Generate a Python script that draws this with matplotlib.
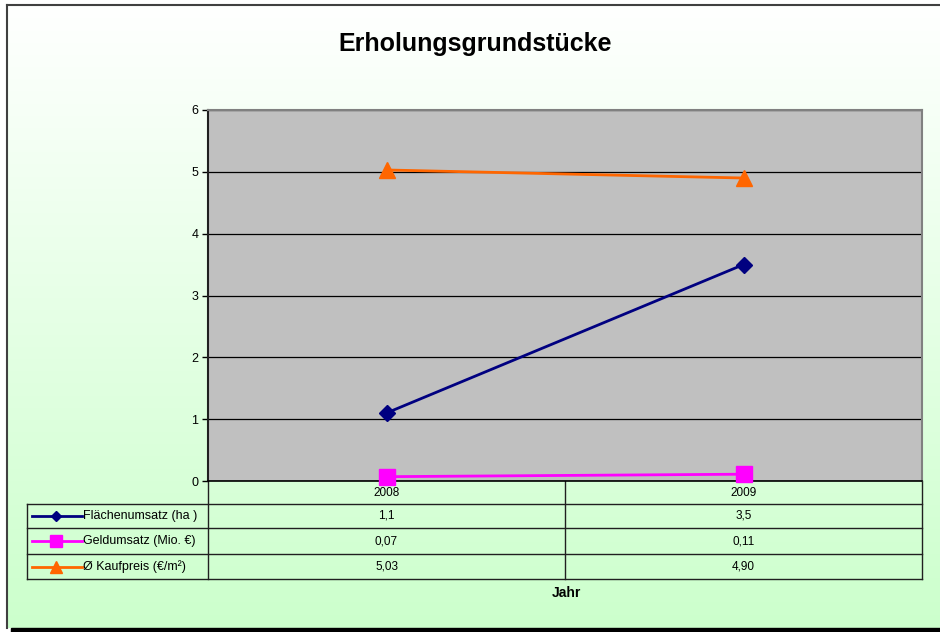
import matplotlib.pyplot as plt
import numpy as np
from matplotlib.lines import Line2D
from matplotlib.patches import Rectangle
from matplotlib.colors import LinearSegmentedColormap
import matplotlib.transforms as mtransforms

# Daten
years = ['2008', '2009']
flaeche = [1.1, 3.5]
geld = [0.07, 0.11]
kaufpreis = [5.03, 4.90]

series_names = ['Flächenumsatz (ha )', 'Geldumsatz (Mio. €)', 'Ø Kaufpreis (€/m²)']
series_values = [flaeche, geld, kaufpreis]
series_decimals = [1, 2, 2]
series_colors = ['#000080', '#ff00ff', '#ff6600']
series_markers = ['D', 's', '^']
series_msize = [8, 12, 12]
legend_msize = [5, 9, 8]

plt.rcParams['font.family'] = ['Liberation Sans', 'DejaVu Sans']

W, H = 940, 632
fig = plt.figure(figsize=(W / 100, H / 100), dpi=100, facecolor='white')

# Hintergrund-Achse in Pixelkoordinaten
bg = fig.add_axes([0, 0, 1, 1], zorder=0)
bg.set_xlim(0, W)
bg.set_ylim(H, 0)
bg.axis('off')

cmap = LinearSegmentedColormap.from_list('grn', ['#ffffff', '#ccffcc'])
grad = np.linspace(0, 1, 256).reshape(-1, 1)
bg.imshow(grad, cmap=cmap, aspect='auto', extent=(7, W, 628, 5), zorder=0)

# Rahmen
bg.plot([7, W], [5, 5], color='#404040', lw=1.5, zorder=1)
bg.plot([7, 7], [5, 628], color='#404040', lw=1.5, zorder=1)
bg.add_patch(Rectangle((11, 628), W - 11, 5, color='black', zorder=1))

bg.text(475, 44, 'Erholungsgrundstücke', fontsize=18, fontweight='bold',
        ha='center', va='center')

# Diagramm
ax = fig.add_axes([208 / W, 1 - 481 / H, (922 - 208) / W, (481 - 110) / H], zorder=1)
ax.set_facecolor('#c0c0c0')
x = np.arange(len(years))
for vals, col, mk, ms in zip(series_values, series_colors, series_markers, series_msize):
    ax.plot(x, vals, color=col, lw=2, marker=mk, markersize=ms,
            markerfacecolor=col, markeredgecolor=col, clip_on=False, zorder=3)

ax.set_xlim(-0.5, len(years) - 0.5)
ax.set_ylim(0, 6)
ax.set_yticks(range(0, 7))
ax.set_xticks([])
ax.yaxis.grid(True, color='black', lw=0.9)
ax.set_axisbelow(True)
ax.tick_params(axis='y', direction='out', length=4, width=1, labelsize=9, pad=3)
for s in ['top', 'right']:
    ax.spines[s].set_color('#808080')
    ax.spines[s].set_linewidth(1.5)
ax.spines['left'].set_color('#202020')
ax.spines['left'].set_linewidth(1.5)
ax.spines['bottom'].set_color('black')
ax.spines['bottom'].set_linewidth(1.2)

# Datentabelle
tr = mtransforms.blended_transform_factory(ax.transData, bg.transData)
row_y = [481, 504, 528, 554, 579]
lc = '#202020'
for yl in row_y[1:]:
    bg.plot([27, 922], [yl, yl], color=lc, lw=1, zorder=2)
bg.plot([27, 27], [504, 579], color=lc, lw=1, zorder=2)
for xl in [208, 565, 922]:
    bg.plot([xl, xl], [481, 579], color=lc, lw=1, zorder=2)

for i, yr in enumerate(years):
    bg.text(i, (row_y[0] + row_y[1]) / 2 + 1, yr, transform=tr, fontsize=8.5,
            ha='center', va='center')

for r, (name, vals, dec, col, mk, lms) in enumerate(zip(series_names, series_values, series_decimals,
                                                         series_colors, series_markers, legend_msize)):
    yc = (row_y[r + 1] + row_y[r + 2]) / 2
    bg.add_line(Line2D([32, 82], [yc, yc], color=col, lw=2, zorder=3))
    bg.add_line(Line2D([56], [yc], color=col, marker=mk, markersize=lms,
                       markerfacecolor=col, markeredgecolor=col, zorder=3))
    bg.text(83, yc, name, fontsize=9, ha='left', va='center')
    for i, v in enumerate(vals):
        bg.text(i, yc, f'{v:.{dec}f}'.replace('.', ','), transform=tr, fontsize=8.5,
                ha='center', va='center')

bg.text(566, 593, 'Jahr', fontsize=10, fontweight='bold', ha='center', va='center')

fig.savefig('out.png', dpi=100)
